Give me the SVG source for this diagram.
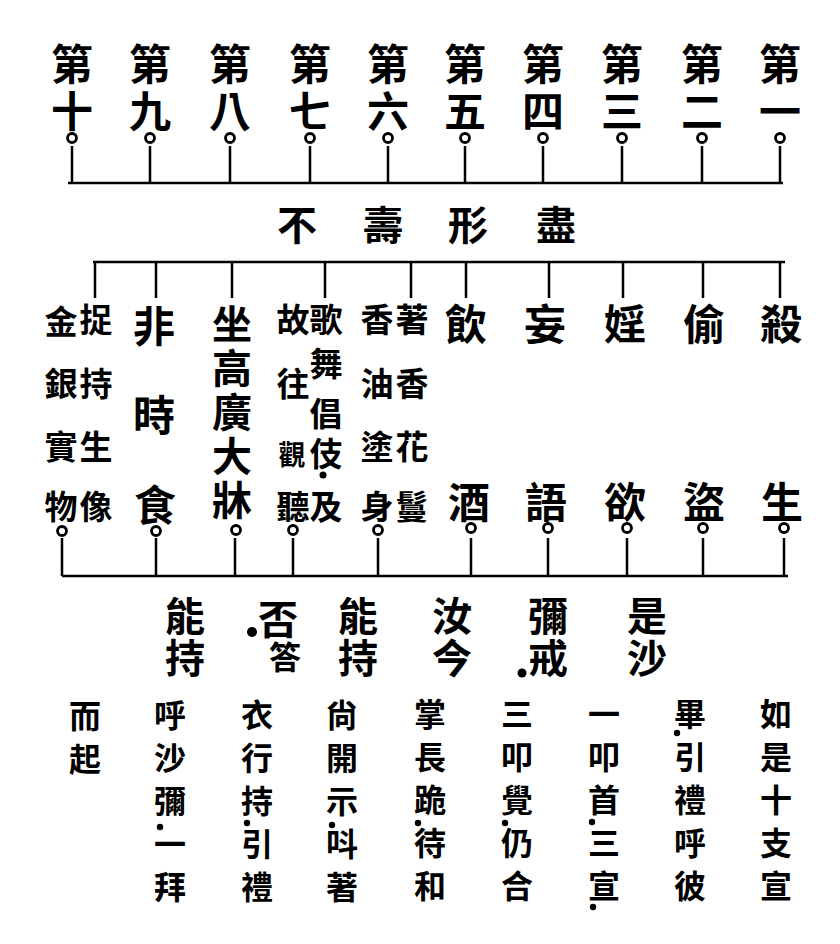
<svg xmlns="http://www.w3.org/2000/svg" width="840" height="944" viewBox="0 0 840 944">
<style>
.t{font-family:"Noto Sans CJK TC","Noto Sans CJK SC",sans-serif;font-weight:700;text-anchor:middle;dominant-baseline:central;fill:#000}
.v{font-family:"Noto Sans CJK TC","Noto Sans CJK SC",sans-serif;font-weight:700;writing-mode:vertical-rl;text-anchor:start;fill:#000}
.a{font-size:42px}
.e{font-size:40px}
.b{font-size:40px}
.c{font-size:33px}
.d{font-size:32px}
.s{font-size:27px}
.top{font-size:42px;letter-spacing:5px}
.tall{font-size:40px;letter-spacing:4px}
.q{font-size:40px;letter-spacing:2px}
.ins{font-size:32px;letter-spacing:11px}
.pj{font-size:33px;letter-spacing:7px}
.l{stroke:#000;stroke-width:2.5;fill:none}
.r{fill:#fff;stroke:#000;stroke-width:2.8}
.p{fill:#000}
</style>
<rect width="840" height="944" fill="#fff"/>

<g id="top-rules">
<g id="n1"><text class="v top" x="780" y="43">第一</text></g>
<g id="n2"><text class="v top" x="702" y="43">第二</text></g>
<g id="n3"><text class="v top" x="622" y="43">第三</text></g>
<g id="n4"><text class="v top" x="543" y="43">第四</text></g>
<g id="n5"><text class="v top" x="465" y="43">第五</text></g>
<g id="n6"><text class="v top" x="388" y="43">第六</text></g>
<g id="n7"><text class="v top" x="310" y="43">第七</text></g>
<g id="n8"><text class="v top" x="230" y="43">第八</text></g>
<g id="n9"><text class="v top" x="150" y="43">第九</text></g>
<g id="n10"><text class="v top" x="72" y="43">第十</text></g>
</g>

<g id="title"><text class="t b"><tspan x="297" y="223">不</tspan><tspan x="383" y="223">壽</tspan><tspan x="468" y="223">形</tspan><tspan x="556" y="223">盡</tspan></text></g>

<g id="precepts">
<g id="p1"><text class="t a"><tspan x="781" y="321">殺</tspan><tspan x="782" y="499">生</tspan></text></g>
<g id="p2"><text class="t a"><tspan x="704" y="321">偷</tspan><tspan x="704" y="499">盜</tspan></text></g>
<g id="p3"><text class="t a"><tspan x="625" y="321">婬</tspan><tspan x="625" y="499">欲</tspan></text></g>
<g id="p4"><text class="t a"><tspan x="545" y="321">妄</tspan><tspan x="546" y="499">語</tspan></text></g>
<g id="p5"><text class="t a"><tspan x="466" y="321">飲</tspan><tspan x="469" y="499">酒</tspan></text></g>
<g id="p6">
<text class="t c"><tspan x="412" y="318">著</tspan><tspan x="412" y="382">香</tspan><tspan x="412" y="445">花</tspan><tspan x="412" y="505">鬘</tspan></text>
<text class="t c"><tspan x="377" y="318">香</tspan><tspan x="377" y="382">油</tspan><tspan x="377" y="445">塗</tspan><tspan x="377" y="505">身</tspan></text>
</g>
<g id="p7">
<text class="t c"><tspan x="326" y="318">歌</tspan><tspan x="326" y="362">舞</tspan><tspan x="326" y="505">及</tspan></text>
<text class="v pj" x="326" y="396.5">倡伎</text>
<circle class="p" cx="323" cy="475" r="3.5"/>
<text class="t c"><tspan x="293" y="318">故</tspan><tspan x="293" y="382">往</tspan><tspan class="s" x="292" y="453">觀</tspan><tspan x="293" y="505">聽</tspan></text>
</g>
<g id="p8"><text class="v tall" x="232" y="304">坐高廣大牀</text></g>
<g id="p9"><text class="t a"><tspan x="154" y="323">非</tspan><tspan x="154" y="412">時</tspan><tspan x="155" y="502">食</tspan></text></g>
<g id="p10">
<text class="t c"><tspan x="96" y="318">捉</tspan><tspan x="96" y="382">持</tspan><tspan x="96" y="445">生</tspan><tspan x="96" y="505">像</tspan></text>
<text class="t c"><tspan x="61" y="320">金</tspan><tspan x="61" y="382">銀</tspan><tspan x="61" y="445">實</tspan><tspan x="61" y="505">物</tspan></text>
</g>
</g>

<g id="question">
<text class="v q" x="647" y="596">是沙</text>
<text class="v q" x="548" y="596">彌戒</text>
<circle class="p" cx="522" cy="673" r="4.5"/>
<text class="v q" x="452" y="596">汝今</text>
<text class="v q" x="358" y="596">能持</text>
<text class="t b" x="278" y="617">否</text>
<text class="v d" x="285" y="641">答</text>
<circle class="p" cx="252" cy="632" r="5"/>
<text class="v q" x="185" y="596">能持</text>
</g>

<g id="instructions">
<text class="v ins" x="776" y="698">如是十支宣</text>
<text class="v ins" x="690" y="698">畢引禮呼彼</text>
<circle class="p" cx="677" cy="733" r="3.2"/>
<text class="v ins" x="604" y="698">一叩首三宣</text>
<circle class="p" cx="592" cy="822" r="3.2"/><circle class="p" cx="593" cy="907" r="3.2"/>
<text class="v ins" x="517" y="698">三叩覺仍合</text>
<circle class="p" cx="505" cy="823" r="3.2"/>
<text class="v ins" x="430" y="698">掌長跪待和</text>
<circle class="p" cx="418" cy="823" r="3.2"/>
<text class="v ins" x="342" y="699">尙開示呌著</text>
<circle class="p" cx="332" cy="825" r="3.2"/>
<text class="v ins" x="257" y="699">衣行持引禮</text>
<circle class="p" cx="247" cy="823" r="3.2"/>
<text class="v ins" x="170" y="699">呼沙彌一拜</text>
<circle class="p" cx="160" cy="827" r="3.2"/>
<text class="v ins" x="85" y="700">而起</text>
</g>

<g id="connectors">
<path class="l" d="M68 183H783 M780 146V183 M702 146V183 M622 146V183 M543 146V183 M465 146V183 M388 146V183 M310 146V183 M230 146V183 M150 146V183 M72 146V183"/>
<circle class="r" cx="780" cy="138" r="4.5"/><circle class="r" cx="702" cy="138" r="4.5"/><circle class="r" cx="622" cy="138" r="4.5"/><circle class="r" cx="543" cy="138" r="4.5"/><circle class="r" cx="465" cy="138" r="4.5"/><circle class="r" cx="388" cy="138" r="4.5"/><circle class="r" cx="310" cy="138" r="4.5"/><circle class="r" cx="230" cy="138" r="4.5"/><circle class="r" cx="150" cy="138" r="4.5"/><circle class="r" cx="72" cy="138" r="4.5"/>
<path class="l" d="M93 262H785 M780 262V298 M703 262V298 M623 262V298 M549 262V298 M466 262V298 M411 262V298 M325 262V298 M232 262V298 M156 262V298 M95 262V298"/>
<path class="l" d="M62 576H788 M784 538V576 M703 538V576 M627 538V576 M548 538V576 M471 538V576 M378 538V576 M293 538V576 M235 538V576 M156 538V576 M62 538V576"/>
<circle class="r" cx="784" cy="528" r="4.5"/><circle class="r" cx="703" cy="528" r="4.5"/><circle class="r" cx="627" cy="528" r="4.5"/><circle class="r" cx="548" cy="528" r="4.5"/><circle class="r" cx="471" cy="528" r="4.5"/><circle class="r" cx="378" cy="530" r="4.5"/><circle class="r" cx="293" cy="530" r="4.5"/><circle class="r" cx="236" cy="530" r="4.5"/><circle class="r" cx="156" cy="531" r="4.5"/><circle class="r" cx="62" cy="531" r="4.5"/>
</g>
</svg>
